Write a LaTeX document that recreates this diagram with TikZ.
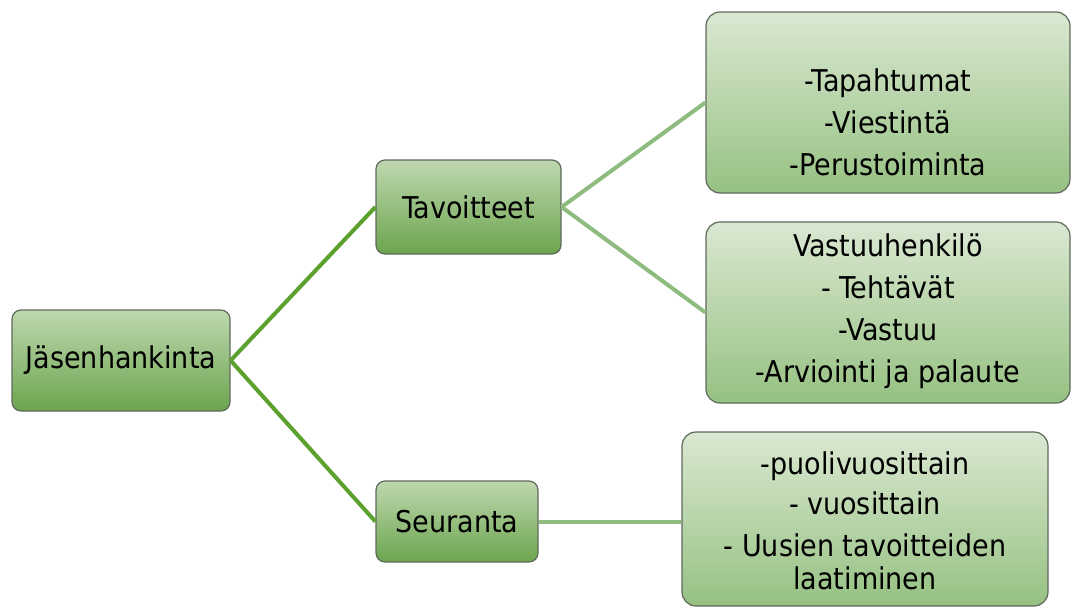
\documentclass[tikz,border=0pt]{standalone}
\usepackage{fontspec}
\setmainfont{DejaVu Sans Condensed}
\definecolor{lineA}{RGB}{92,160,46}
\definecolor{lineB}{RGB}{142,188,126}
\definecolor{boxdraw}{RGB}{95,105,90}
\definecolor{smalltop}{RGB}{190,215,175}
\definecolor{smallbot}{RGB}{108,165,78}
\definecolor{bigtop}{RGB}{218,232,210}
\definecolor{bigbot}{RGB}{150,193,130}
\tikzset{
  smallbox/.style={draw=boxdraw, line width=1.2pt, rounded corners=9pt,
    top color=smalltop, bottom color=smallbot, shading angle=0,
    font=\fontsize{30}{36}\selectfont, inner sep=0pt},
  bigbox/.style={draw=boxdraw, line width=1.2pt, rounded corners=14pt,
    top color=bigtop, bottom color=bigbot, inner sep=0pt},
  boxtext/.style={align=center, inner sep=0pt, anchor=north,
    font=\fontsize{30}{42}\selectfont},
  linkA/.style={draw=lineA, line width=4pt},
  linkB/.style={draw=lineB, line width=4pt},
}
\begin{document}
\begin{tikzpicture}[x=1pt,y=-1pt]
\useasboundingbox (0,0) rectangle (1072,608);
% boxes
\node[smallbox, minimum width=218pt, minimum height=101pt] (J) at (121,360.5) {Jäsenhankinta};
\node[smallbox, minimum width=185pt, minimum height=94pt] (T) at (468.5,207) {Tavoitteet};
\node[smallbox, minimum width=162pt, minimum height=81pt] (S) at (457,521.5) {Seuranta};
\node[bigbox, minimum width=364pt, minimum height=181pt] (B1) at (888,102.5) {};
\node[bigbox, minimum width=364pt, minimum height=181pt] (B2) at (888,312.5) {};
\node[bigbox, minimum width=366pt, minimum height=174pt] (B3) at (865,519) {};
% connectors
\draw[linkA] (J.east) -- (T.west);
\draw[linkA] (J.east) -- (S.west);
\draw[linkB] (T.east) -- (B1.west);
\draw[linkB] (T.east) -- (B2.west);
\draw[linkB] (S.east) -- (B3.west |- S.east);
% texts
\node[boxtext] (t1) at (888,69) {-Tapahtumat\\-Viestintä\\-Perustoiminta};
\node[boxtext] (t2) at (888,234) {Vastuuhenkilö\\- Tehtävät\\-Vastuu\\-Arviointi ja palaute};
\node[boxtext] (t3) at (865,452) {-puolivuosittain\\[-2pt]- vuosittain\\- Uusien tavoitteiden\\[-9pt]laatiminen};
\end{tikzpicture}
\end{document}
